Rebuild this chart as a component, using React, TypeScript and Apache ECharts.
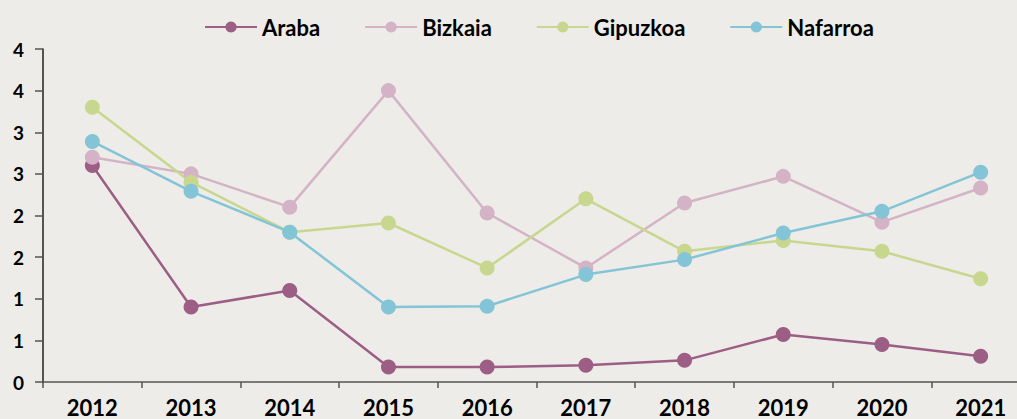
import React, { useEffect, useRef } from "react";
import * as echarts from "echarts";

const years = ["2012", "2013", "2014", "2015", "2016", "2017", "2018", "2019", "2020", "2021"];
const araba = [2.6, 0.9, 1.1, 0.18, 0.18, 0.2, 0.26, 0.57, 0.45, 0.31];
const bizkaia = [2.7, 2.5, 2.1, 3.5, 2.03, 1.37, 2.15, 2.47, 1.92, 2.33];
const gipuzkoa = [3.3, 2.4, 1.8, 1.91, 1.37, 2.2, 1.57, 1.7, 1.57, 1.24];
const nafarroa = [2.89, 2.29, 1.8, 0.9, 0.91, 1.29, 1.47, 1.79, 2.05, 2.52];
const yTickLabels = ["0", "1", "1", "2", "2", "3", "3", "4", "4"];

const seriesNames = ["Araba", "Bizkaia", "Gipuzkoa", "Nafarroa"];
const seriesData = [araba, bizkaia, gipuzkoa, nafarroa];
const colors = ["#9c5e84", "#d4b3c6", "#c8d78e", "#83c5d6"];

const FONT = "Lato";

export default function App() {
  const ref = useRef<HTMLDivElement>(null);
  useEffect(() => {
    if (!ref.current) return;
    const chart = echarts.init(ref.current, undefined, { renderer: "svg" });
    chart.setOption({
      animation: false,
      backgroundColor: "#edece8",
      legend: {
        left: 199,
        top: 11,
        itemWidth: 52,
        itemHeight: 14,
        itemGap: 44,
        textStyle: { fontFamily: FONT, fontWeight: "bold", fontSize: 22, color: "#000" },
        data: seriesNames,
      },
      grid: { left: 43, top: 49, width: 987, height: 333, containLabel: false },
      xAxis: {
        type: "category",
        data: years,
        boundaryGap: true,
        axisLine: { lineStyle: { color: "#555", width: 1.5 } },
        axisTick: { show: true, length: 6, lineStyle: { color: "#555", width: 1.5 } },
        axisLabel: { fontFamily: FONT, fontWeight: "bold", fontSize: 22, color: "#000", margin: 14 },
      },
      yAxis: {
        type: "value",
        min: 0,
        max: 4,
        interval: 0.5,
        splitLine: { show: false },
        axisLine: { show: true, lineStyle: { color: "#222", width: 1.5 } },
        axisTick: { show: true, length: 8, lineStyle: { color: "#555", width: 1.5 } },
        axisLabel: {
          fontFamily: FONT,
          fontWeight: "bold",
          fontSize: 19,
          color: "#000",
          margin: 19,
          formatter: (_v: number, i: number) => yTickLabels[i],
        },
      },
      series: seriesNames.map((name, i) => ({
        name,
        type: "line",
        data: seriesData[i],
        symbol: "circle",
        symbolSize: 15,
        color: colors[i],
        lineStyle: { width: 2.5, color: colors[i] },
        itemStyle: { color: colors[i] },
      })),
    });
    return () => chart.dispose();
  }, []);
  return (
    <div style={{ width: 1017, height: 419, position: "absolute", left: 0, top: 0, overflow: "hidden" }}>
      <div ref={ref} style={{ width: 1040, height: 419 }} />
    </div>
  );
}
